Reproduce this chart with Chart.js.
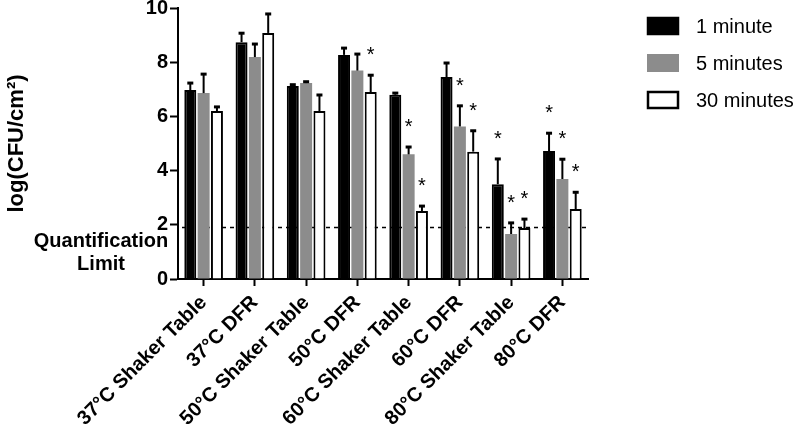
<!DOCTYPE html>
<html>
<head>
<meta charset="utf-8">
<script src="https://cdn.jsdelivr.net/npm/chart.js@4.4.0/dist/chart.umd.min.js"></script>
<style>
  html, body { margin: 0; padding: 0; background: #fff; }
  #wrap { width: 800px; height: 431px; }
</style>
</head>
<body>
<div id="wrap"><canvas id="cfuChart"></canvas></div>
<script>
// Chart data
const categories = ['37°C Shaker Table', '37°C DFR', '50°C Shaker Table', '50°C DFR',
                    '60°C Shaker Table', '60°C DFR', '80°C Shaker Table', '80°C DFR'];
const oneMin = [6.97, 8.74, 7.12, 8.27, 6.80, 7.45, 3.50, 4.72];
const oneMinErr = [0.26, 0.33, 0.05, 0.25, 0.06, 0.52, 0.93, 0.66];
const fiveMin = [6.86, 8.19, 7.23, 7.69, 4.60, 5.63, 1.66, 3.69];
const fiveMinErr = [0.70, 0.48, 0.05, 0.61, 0.27, 0.76, 0.41, 0.73];
const thirtyMin = [6.20, 9.08, 6.20, 6.90, 2.51, 4.70, 1.88, 2.58];
const thirtyMinErr = [0.15, 0.70, 0.59, 0.62, 0.18, 0.77, 0.33, 0.62];
// asterisks (significant vs control)
const oneMinSig = [0, 0, 0, 0, 0, 0, 1, 1];
const fiveMinSig = [0, 0, 0, 0, 1, 1, 1, 1];
const thirtyMinSig = [0, 0, 0, 1, 1, 1, 1, 1];
const quantLimit = 1.9;
const yTicks = [0, 2, 4, 6, 8, 10];

const FONT = "'Liberation Sans', Arial, Helvetica, sans-serif";

document.addEventListener('DOMContentLoaded', function() {
    Chart.defaults.color = '#000';
    Chart.defaults.font.family = FONT;

    // dashed quantification limit line, behind the bars
    const limitLine = {
        id: 'limitLine',
        beforeDatasetsDraw(chart) {
            const {ctx, chartArea, scales} = chart;
            const y = scales.y.getPixelForValue(quantLimit);
            ctx.save();
            ctx.strokeStyle = '#000';
            ctx.lineWidth = 1.5;
            ctx.setLineDash([4, 4]);
            ctx.beginPath();
            ctx.moveTo(chartArea.left + 4, y);
            ctx.lineTo(chartArea.right + 2, y);
            ctx.stroke();
            ctx.restore();
        }
    };

    // upward error bars + asterisks
    const errorBars = {
        id: 'errorBars',
        afterDatasetsDraw(chart) {
            const {ctx, scales} = chart;
            ctx.save();
            chart.data.datasets.forEach(function(ds, i) {
                const meta = chart.getDatasetMeta(i);
                meta.data.forEach(function(bar, j) {
                    const top = scales.y.getPixelForValue(ds.data[j] + ds.errors[j]);
                    ctx.strokeStyle = '#000';
                    ctx.lineWidth = 2;
                    ctx.beginPath();
                    ctx.moveTo(bar.x, bar.y);
                    ctx.lineTo(bar.x, top);
                    ctx.stroke();
                    ctx.lineWidth = 3;
                    ctx.beginPath();
                    ctx.moveTo(bar.x - 3, top);
                    ctx.lineTo(bar.x + 3, top);
                    ctx.stroke();
                    if (ds.sig[j]) {
                        ctx.fillStyle = '#000';
                        ctx.font = '20px ' + FONT;
                        ctx.textAlign = 'center';
                        ctx.textBaseline = 'alphabetic';
                        ctx.fillText('*', bar.x, top - 14);
                    }
                });
            });
            ctx.restore();
        }
    };

    // "Quantification Limit" note + legend at the top right
    const notesAndLegend = {
        id: 'notesAndLegend',
        afterDraw(chart) {
            const {ctx} = chart;
            ctx.save();
            ctx.fillStyle = '#000';
            ctx.font = 'bold 20px ' + FONT;
            ctx.textAlign = 'center';
            ctx.textBaseline = 'alphabetic';
            ctx.fillText('Quantification', 101, 247);
            ctx.fillText('Limit', 101, 270);

            ctx.font = '20px ' + FONT;
            ctx.textAlign = 'left';
            ctx.textBaseline = 'middle';
            chart.data.datasets.forEach(function(ds, i) {
                const y = 26 + i * 37;
                ctx.fillStyle = ds.backgroundColor;
                ctx.fillRect(647, y - 9, 32, 18);
                if (ds.borderWidth) {
                    ctx.strokeStyle = ds.borderColor;
                    ctx.lineWidth = 2.5;
                    ctx.strokeRect(648, y - 8, 30, 16);
                }
                ctx.fillStyle = '#000';
                ctx.fillText(ds.label, 696, y + 1);
            });
            ctx.restore();
        }
    };

    const ctx = document.getElementById('cfuChart').getContext('2d');
    new Chart(ctx, {
        type: 'bar',
        data: {
            labels: categories,
            datasets: [
                {
                    label: '1 minute',
                    data: oneMin,
                    errors: oneMinErr,
                    sig: oneMinSig,
                    backgroundColor: '#000',
                    borderColor: '#000',
                    borderWidth: 2
                },
                {
                    label: '5 minutes',
                    data: fiveMin,
                    errors: fiveMinErr,
                    sig: fiveMinSig,
                    backgroundColor: '#8c8c8c',
                    borderColor: '#8c8c8c',
                    borderWidth: 0
                },
                {
                    label: '30 minutes',
                    data: thirtyMin,
                    errors: thirtyMinErr,
                    sig: thirtyMinSig,
                    backgroundColor: '#fff',
                    borderColor: '#000',
                    borderWidth: 2
                }
            ]
        },
        options: {
            responsive: true,
            maintainAspectRatio: false,
            animation: false,
            categoryPercentage: 0.78,
            barPercentage: 0.9,
            layout: {
                padding: { left: 0, top: 0, right: 212, bottom: 0 }
            },
            scales: {
                x: {
                    grid: {
                        offset: false,
                        drawOnChartArea: false,
                        tickLength: 7,
                        tickWidth: 2,
                        tickColor: '#000'
                    },
                    border: { color: '#000', width: 2 },
                    ticks: {
                        minRotation: 45,
                        maxRotation: 45,
                        padding: 5,
                        font: { size: 20, weight: 'bold' }
                    },
                    afterFit(scale) {
                        scale.height = 152;
                        scale.paddingLeft = 0;
                        scale.paddingRight = 0;
                    }
                },
                y: {
                    min: 0,
                    max: 10,
                    afterBuildTicks(scale) {
                        scale.ticks = yTicks.map(v => ({ value: v }));
                    },
                    grid: {
                        drawOnChartArea: false,
                        tickLength: 8,
                        tickWidth: 2,
                        tickColor: '#000'
                    },
                    border: { color: '#000', width: 2 },
                    ticks: {
                        padding: 2,
                        font: { size: 20, weight: 'bold' }
                    },
                    title: {
                        display: true,
                        text: 'log(CFU/cm²)',
                        font: { size: 22, weight: 'bold' },
                        padding: { top: 4, bottom: 4 }
                    },
                    afterFit(scale) {
                        scale.width = 178;
                        scale.paddingTop = 8;
                        scale.paddingBottom = 0;
                    }
                }
            },
            plugins: {
                legend: { display: false },
                tooltip: { enabled: false }
            }
        },
        plugins: [limitLine, errorBars, notesAndLegend]
    });
});
</script>
</body>
</html>
